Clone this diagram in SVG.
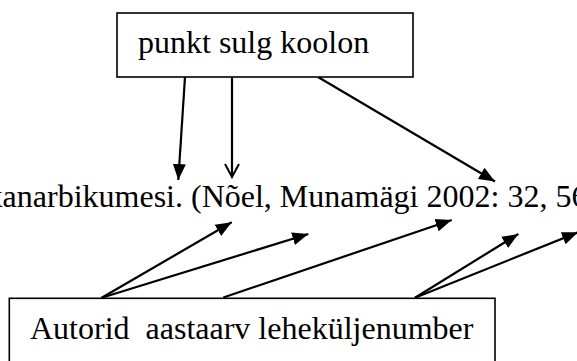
<svg xmlns="http://www.w3.org/2000/svg" width="577" height="361" viewBox="0 0 577 361">
<style>
.box{fill:#fff;stroke:#000;stroke-width:1.6}
.lbl{font-family:"Liberation Serif","Times New Roman",serif;font-size:32px;fill:#000;white-space:pre}
.conn{stroke:#000;stroke-width:2.2;fill:none}
</style>
<defs>
<marker id="solid" markerUnits="userSpaceOnUse" markerWidth="17" markerHeight="14" refX="16" refY="7" orient="auto">
<path d="M0,0.5 L16,7 L0,13.5 z" fill="#000"/>
</marker>
<marker id="open" markerUnits="userSpaceOnUse" markerWidth="16" markerHeight="18" refX="14" refY="9" orient="auto">
<path d="M1,2 L14,9 L1,16" fill="none" stroke="#000" stroke-width="2"/>
</marker>
</defs>
<rect width="577" height="361" fill="#fff"/>
<text class="lbl" x="-13.4" y="207">kanarbikumesi. (Nõel, Munamägi 2002: 32, 56</text>
<g id="connectors">
<line class="conn" x1="185" y1="77" x2="178.3" y2="180" marker-end="url(#solid)"/>
<line class="conn" x1="232" y1="77" x2="232" y2="177" marker-end="url(#open)"/>
<line class="conn" x1="318" y1="77" x2="495" y2="181.5" marker-end="url(#solid)"/>
<line class="conn" x1="101.7" y1="297.7" x2="231.7" y2="222.3" marker-end="url(#solid)"/>
<line class="conn" x1="101.7" y1="297.7" x2="308.3" y2="234" marker-end="url(#solid)"/>
<line class="conn" x1="223.3" y1="297.5" x2="451.7" y2="220" marker-end="url(#solid)"/>
<line class="conn" x1="415" y1="297.7" x2="518.3" y2="234" marker-end="url(#solid)"/>
<line class="conn" x1="415" y1="297.7" x2="578" y2="232.3" marker-end="url(#solid)"/>
</g>
<g id="node-top">
<rect class="box" x="117" y="13" width="296" height="64"/>
<text class="lbl" x="138" y="53">punkt sulg koolon</text>
</g>
<g id="node-bottom">
<rect class="box" x="9.3" y="298.3" width="485.7" height="72"/>
<text class="lbl" x="30" y="338.5" xml:space="preserve">Autorid  aastaarv leheküljenumber</text>
</g>
</svg>
